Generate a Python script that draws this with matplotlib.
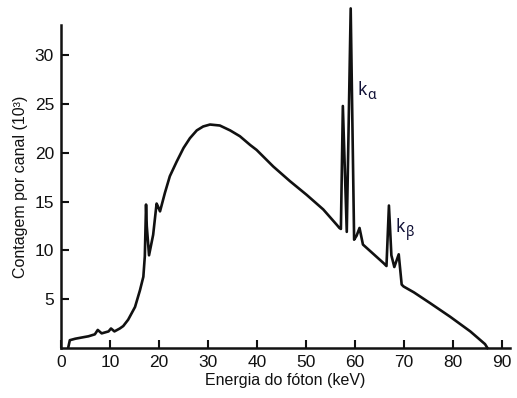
import matplotlib
matplotlib.use("Agg")
import matplotlib.pyplot as plt

# Data
energy = [1.5, 1.8, 2.9, 4.5, 5.6, 6.9, 7.5, 8.3, 9.7, 10.2, 10.9, 12.0, 12.7,
          13.7, 15.1, 16.1, 16.8, 17.1, 17.35, 17.5, 17.96, 18.8, 19.5, 19.7,
          20.2, 21.2, 22.2, 23.6, 25.0, 26.3, 27.7, 29.0, 30.4, 32.4, 34.5,
          36.5, 38.6, 39.9, 43.3, 46.7, 50.1, 53.5, 56.3, 56.8, 57.1, 57.5,
          58.3, 59.1, 59.8, 60.3, 60.9, 61.6, 65.8, 66.4, 66.9, 67.4, 68.0,
          68.9, 69.5, 69.9, 72.0, 75.3, 79.4, 83.5, 86.5, 87.0]
counts = [0.1, 0.8, 0.95, 1.1, 1.2, 1.4, 1.85, 1.5, 1.7, 2.0, 1.7, 2.0, 2.25,
          2.9, 4.2, 5.9, 7.3, 9.4, 14.7, 12.5, 9.5, 11.6, 14.8, 14.6,
          14.0, 15.9, 17.6, 19.1, 20.5, 21.5, 22.3, 22.7, 22.9, 22.8, 22.3,
          21.7, 20.8, 20.3, 18.6, 17.1, 15.7, 14.2, 12.6, 12.3, 12.2, 24.8,
          11.9, 34.8, 11.1, 11.5, 12.3, 10.6, 8.7, 8.4, 14.6, 9.5, 8.3,
          9.6, 6.5, 6.3, 5.7, 4.6, 3.2, 1.7, 0.4, 0.0]

x_ticks = [0, 10, 20, 30, 40, 50, 60, 70, 80, 90]
y_ticks = [5, 10, 15, 20, 25, 30]
x_label = "Energia do fóton (keV)"
y_label = "Contagem por canal (10³)"

W, H = 517, 398
fig = plt.figure(figsize=(W / 100, H / 100), dpi=100)
ax = fig.add_axes([61 / W, 50 / H, 449 / W, 323 / H])

ink = "#111111"
ax.plot(energy, counts, color=ink, lw=1.9, solid_joinstyle="round",
        clip_on=False)

ax.set_xlim(0, 91.6)
ax.set_ylim(0, 33.1)
ax.set_xticks(x_ticks)
ax.set_yticks(y_ticks)

for s in ["top", "right"]:
    ax.spines[s].set_visible(False)
for s in ["left", "bottom"]:
    ax.spines[s].set_linewidth(1.8)
    ax.spines[s].set_color(ink)

font = ["Liberation Sans", "DejaVu Sans"]
ax.tick_params(direction="in", length=6, width=1.5, colors=ink,
               labelsize=12.5, pad=5)
for lab in ax.get_xticklabels() + ax.get_yticklabels():
    lab.set_family(font)

ax.set_xlabel(x_label, family=font, fontsize=11.5, color=ink, labelpad=2)
ax.set_ylabel(y_label, family=font, fontsize=11.5, color=ink, labelpad=5)

ann = ["Noto Sans", "DejaVu Sans"]
acol = "#101035"
ax.text(60.4, 25.9, "k", family=ann, fontsize=12.5, color=acol, va="baseline")
ax.text(62.4, 25.5, "α", family=ann, fontsize=10, color=acol, va="baseline")
ax.text(68.3, 11.9, "k", family=ann, fontsize=12.5, color=acol, va="baseline")
ax.text(70.3, 11.5, "β", family=ann, fontsize=10, color=acol, va="baseline")

fig.savefig("out.png", dpi=100)
